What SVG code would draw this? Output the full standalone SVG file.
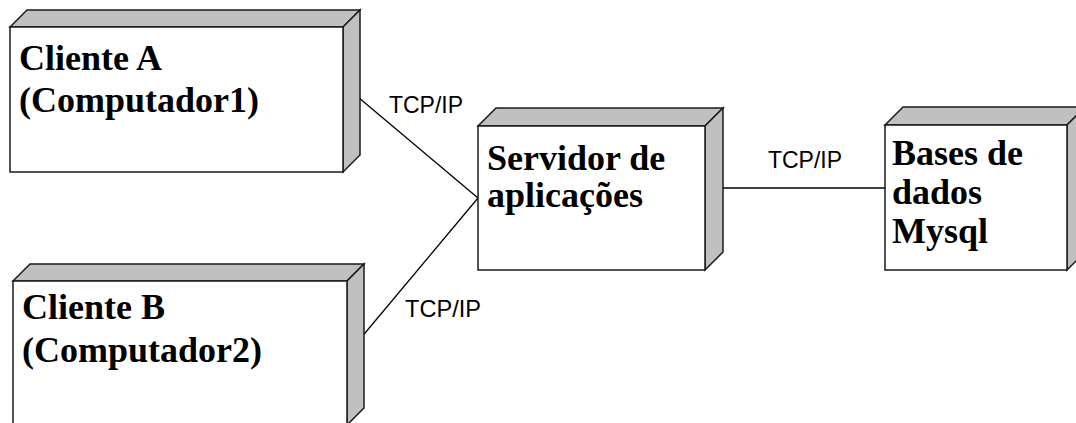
<svg xmlns="http://www.w3.org/2000/svg" width="1076" height="423" viewBox="0 0 1076 423">
<style>
.face{fill:#ffffff;stroke:#1a1a1a;stroke-width:1.5}
.side{fill:#c0c0c0;stroke:#1a1a1a;stroke-width:1.5;stroke-linejoin:miter}
.lbl{font-family:"Liberation Serif","Times New Roman",serif;font-weight:bold;font-size:36px;fill:#000}
.conn{stroke:#000;stroke-width:1.3;fill:none}
.tcp{font-family:"Liberation Sans",Arial,sans-serif;font-size:24px;fill:#000}
</style>
<rect width="1076" height="423" fill="#ffffff"/>
<g id="connectors">
<line class="conn" x1="352" y1="92" x2="478" y2="198"/>
<line class="conn" x1="355" y1="345" x2="478" y2="198"/>
<line class="conn" x1="713" y1="188" x2="885" y2="188"/>
<text class="tcp" x="389" y="113" textLength="74" lengthAdjust="spacingAndGlyphs">TCP/IP</text>
<text class="tcp" x="405" y="317" textLength="76" lengthAdjust="spacingAndGlyphs">TCP/IP</text>
<text class="tcp" x="768" y="168" textLength="74" lengthAdjust="spacingAndGlyphs">TCP/IP</text>
</g>
<g id="clienteA">
<polygon class="side" points="10,27 27,10 360,10 343,27"/>
<polygon class="side" points="343,27 360,10 360,155 343,172"/>
<rect class="face" x="10" y="27" width="333" height="145"/>
<text class="lbl" x="19" y="70">Cliente A</text>
<text class="lbl" x="19" y="112">(Computador1)</text>
</g>
<g id="clienteB">
<polygon class="side" points="13,281 30,264 364,264 347,281"/>
<polygon class="side" points="347,281 364,264 364,408 347,425"/>
<rect class="face" x="13" y="281" width="334" height="145"/>
<text class="lbl" x="22" y="319">Cliente B</text>
<text class="lbl" x="22" y="362">(Computador2)</text>
</g>
<g id="servidor">
<polygon class="side" points="478,126 496,108 723,108 705,126"/>
<polygon class="side" points="705,126 723,108 723,252 705,270"/>
<rect class="face" x="478" y="126" width="227" height="144"/>
<text class="lbl" x="487" y="170">Servidor de</text>
<text class="lbl" x="487" y="207">aplicações</text>
</g>
<g id="bases">
<polygon class="side" points="885,125 903,107 1085,107 1067,125"/>
<polygon class="side" points="1067,125 1085,107 1085,252 1067,270"/>
<rect class="face" x="885" y="125" width="182" height="145"/>
<text class="lbl" x="892" y="165">Bases de</text>
<text class="lbl" x="892" y="204">dados</text>
<text class="lbl" x="892" y="243">Mysql</text>
</g>
</svg>
